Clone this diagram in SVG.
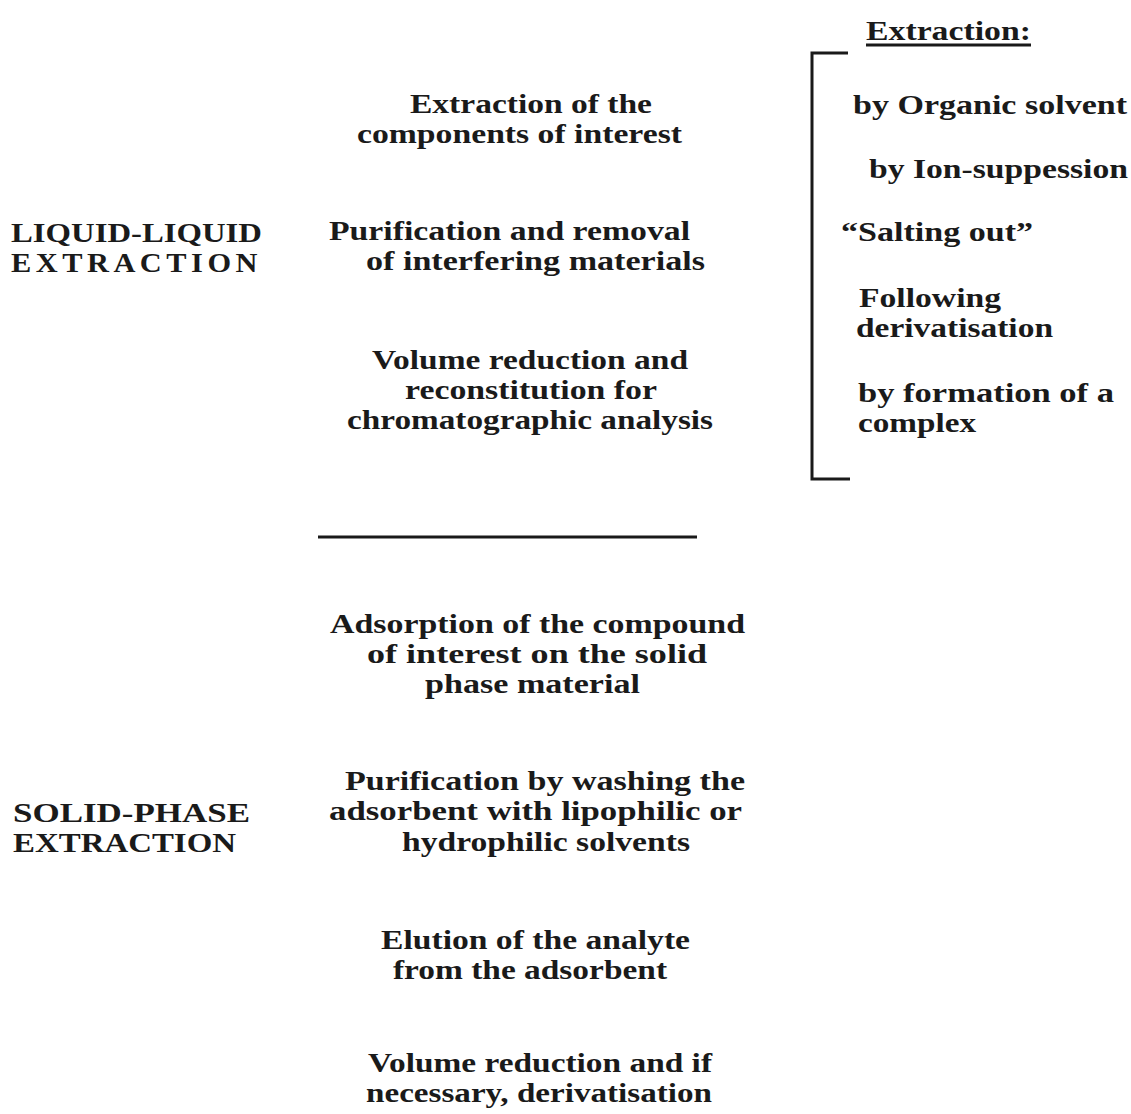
<svg xmlns="http://www.w3.org/2000/svg" width="1131" height="1114" viewBox="0 0 1131 1114">
<style>
text { font-family: "Liberation Serif", "Times New Roman", serif; font-weight: bold; font-size: 27px; fill: #1a1a1a; }
.ln { stroke: #1a1a1a; stroke-width: 3; fill: none; stroke-linecap: butt; }
</style>
<rect x="0" y="0" width="1131" height="1114" fill="#ffffff"/>

<g id="lines">
  <path class="ln" d="M848,53 H812 V479 H850"/>
  <line class="ln" x1="318" y1="537" x2="697" y2="537"/>
  <line class="ln" x1="866" y1="45" x2="1031" y2="45" stroke-width="2"/>
</g>

<g id="liquid-liquid">
  <text x="11" y="242" textLength="251" lengthAdjust="spacingAndGlyphs">LIQUID-LIQUID</text>
  <text x="11" y="272" textLength="251" lengthAdjust="spacingAndGlyphs" letter-spacing="4">EXTRACTION</text>
</g>

<g id="lle-step1">
  <text x="410" y="113" textLength="242" lengthAdjust="spacingAndGlyphs">Extraction of the</text>
  <text x="357" y="143" textLength="325" lengthAdjust="spacingAndGlyphs">components of interest</text>
</g>
<g id="lle-step2">
  <text x="329" y="240" textLength="361" lengthAdjust="spacingAndGlyphs">Purification and removal</text>
  <text x="366" y="270" textLength="339" lengthAdjust="spacingAndGlyphs">of interfering materials</text>
</g>
<g id="lle-step3">
  <text x="372" y="369" textLength="316" lengthAdjust="spacingAndGlyphs">Volume reduction and</text>
  <text x="405" y="399" textLength="252" lengthAdjust="spacingAndGlyphs">reconstitution for</text>
  <text x="347" y="429" textLength="366" lengthAdjust="spacingAndGlyphs">chromatographic analysis</text>
</g>

<g id="extraction-heading">
  <text x="866" y="40" textLength="165" lengthAdjust="spacingAndGlyphs">Extraction:</text>
</g>
<g id="extraction-methods">
  <text x="853" y="114" textLength="274" lengthAdjust="spacingAndGlyphs">by Organic solvent</text>
  <text x="869" y="178" textLength="259" lengthAdjust="spacingAndGlyphs">by Ion-suppession</text>
  <text x="841" y="241" textLength="192" lengthAdjust="spacingAndGlyphs">“Salting out”</text>
  <text x="859" y="307" textLength="142" lengthAdjust="spacingAndGlyphs">Following</text>
  <text x="856" y="337" textLength="197" lengthAdjust="spacingAndGlyphs">derivatisation</text>
  <text x="858" y="402" textLength="256" lengthAdjust="spacingAndGlyphs">by formation of a</text>
  <text x="858" y="432" textLength="118" lengthAdjust="spacingAndGlyphs">complex</text>
</g>

<g id="solid-phase">
  <text x="13" y="822" textLength="237" lengthAdjust="spacingAndGlyphs">SOLID-PHASE</text>
  <text x="13" y="852" textLength="223" lengthAdjust="spacingAndGlyphs">EXTRACTION</text>
</g>

<g id="spe-step1">
  <text x="330" y="633" textLength="415" lengthAdjust="spacingAndGlyphs">Adsorption of the compound</text>
  <text x="367" y="663" textLength="340" lengthAdjust="spacingAndGlyphs">of interest on the solid</text>
  <text x="425" y="693" textLength="215" lengthAdjust="spacingAndGlyphs">phase material</text>
</g>
<g id="spe-step2">
  <text x="345" y="790" textLength="400" lengthAdjust="spacingAndGlyphs">Purification by washing the</text>
  <text x="329" y="820" textLength="413" lengthAdjust="spacingAndGlyphs">adsorbent with lipophilic or</text>
  <text x="402" y="851" textLength="288" lengthAdjust="spacingAndGlyphs">hydrophilic solvents</text>
</g>
<g id="spe-step3">
  <text x="381" y="949" textLength="309" lengthAdjust="spacingAndGlyphs">Elution of the analyte</text>
  <text x="393" y="979" textLength="274" lengthAdjust="spacingAndGlyphs">from the adsorbent</text>
</g>
<g id="spe-step4">
  <text x="368" y="1072" textLength="344" lengthAdjust="spacingAndGlyphs">Volume reduction and if</text>
  <text x="366" y="1102" textLength="346" lengthAdjust="spacingAndGlyphs">necessary, derivatisation</text>
</g>
</svg>
